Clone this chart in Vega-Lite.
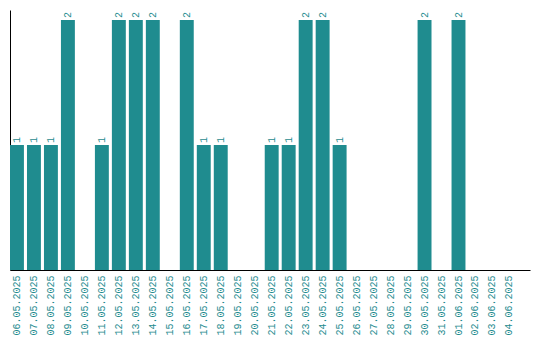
{
  "$schema": "https://vega.github.io/schema/vega-lite/v6.json",
  "width": 520,
  "height": 260,
  "autosize": {"type": "none"},
  "padding": {"left": 10, "top": 10, "right": 10, "bottom": 70},
  "background": "white",
  "config": {"view": {"stroke": null}},
  "data": {
    "values": [
      {"date": "06.05.2025", "count": 1},
      {"date": "07.05.2025", "count": 1},
      {"date": "08.05.2025", "count": 1},
      {"date": "09.05.2025", "count": 2},
      {"date": "10.05.2025", "count": 0},
      {"date": "11.05.2025", "count": 1},
      {"date": "12.05.2025", "count": 2},
      {"date": "13.05.2025", "count": 2},
      {"date": "14.05.2025", "count": 2},
      {"date": "15.05.2025", "count": 0},
      {"date": "16.05.2025", "count": 2},
      {"date": "17.05.2025", "count": 1},
      {"date": "18.05.2025", "count": 1},
      {"date": "19.05.2025", "count": 0},
      {"date": "20.05.2025", "count": 0},
      {"date": "21.05.2025", "count": 1},
      {"date": "22.05.2025", "count": 1},
      {"date": "23.05.2025", "count": 2},
      {"date": "24.05.2025", "count": 2},
      {"date": "25.05.2025", "count": 1},
      {"date": "26.05.2025", "count": 0},
      {"date": "27.05.2025", "count": 0},
      {"date": "28.05.2025", "count": 0},
      {"date": "29.05.2025", "count": 0},
      {"date": "30.05.2025", "count": 2},
      {"date": "31.05.2025", "count": 0},
      {"date": "01.06.2025", "count": 2},
      {"date": "02.06.2025", "count": 0},
      {"date": "03.06.2025", "count": 0},
      {"date": "04.06.2025", "count": 0}
    ]
  },
  "encoding": {
    "x": {
      "field": "date",
      "type": "ordinal",
      "sort": null,
      "scale": {"paddingInner": 0.18, "paddingOuter": 0.4, "align": 0},
      "axis": {
        "title": null,
        "labelAngle": -90,
        "labelAlign": "right",
        "labelBaseline": "middle",
        "labelFont": "Liberation Mono",
        "labelFontSize": 10,
        "labelColor": "#1f8c8f",
        "labelPadding": 5,
        "ticks": false,
        "domainColor": "black",
        "domainWidth": 1
      }
    },
    "y": {
      "field": "count",
      "type": "quantitative",
      "scale": {"domain": [0, 2.08], "nice": false},
      "axis": {
        "title": null,
        "labels": false,
        "ticks": false,
        "grid": false,
        "domainColor": "black",
        "domainWidth": 1
      }
    }
  },
  "layer": [
    {"mark": {"type": "bar", "color": "#1f8c8f"}},
    {
      "transform": [{"filter": "datum.count > 0"}],
      "mark": {
        "type": "text",
        "angle": -90,
        "align": "left",
        "baseline": "middle",
        "dx": 2,
        "font": "Liberation Mono",
        "fontSize": 10,
        "color": "#1f8c8f"
      },
      "encoding": {"text": {"field": "count", "type": "quantitative"}}
    }
  ]
}
